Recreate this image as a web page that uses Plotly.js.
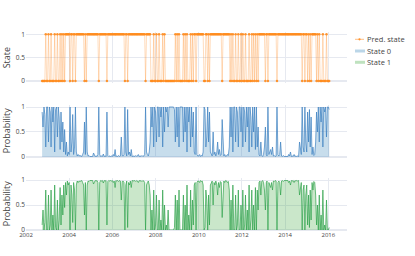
<!DOCTYPE html>
<html><head><meta charset="utf-8">
<script src="https://cdn.plot.ly/plotly-3.0.1.min.js"></script>
<style>html,body{margin:0;padding:0;background:#fff;} #chart{width:415px;height:256px;}</style>
</head><body><div id="chart"></div>
<script>
// Semi-monthly observations (1st and 16th of each month), first one 2002-10-01
const firstYear = 2002;
const firstSlot = 18; // slot = 2*(month-1) + (second half ? 1 : 0)

// Smoothed probability of state 0
const stateZeroProb = [
  // 2002 (Oct-Dec)
  0.9, 0.6, 1, 0.85, 0.2, 1,
  // 2003
  1, 0.3, 1, 0.9, 0.2, 1, 0.7, 1, 0.1, 0.95, 1, 0.4, 1, 0.8, 0.15, 0.9, 0.3, 0.7, 0.1, 0.55, 0.05, 0.3, 0.02, 0.1,
  // 2004
  0.05, 1, 0.1, 0.3, 0.85, 0.05, 0.2, 1, 0.1, 0.02, 0.05, 0.02, 0.03, 0.02, 0.01, 0.05, 0.1, 0.7, 0.05, 1, 0.1, 0.02, 0.03, 0.01,
  // 2005
  0.01, 0.02, 0.01, 0.08, 0.02, 0.01, 0.02, 0.01, 0.05, 1, 0.05, 0.01, 0.02, 0.01, 0.06, 0.01, 0.02, 0.01, 0.9, 0.03, 0.01, 0.02, 0.01, 0.02,
  // 2006
  0.01, 0.05, 0.02, 0.15, 0.01, 0.02, 0.01, 0.03, 0.01, 0.02, 0.4, 0.03, 0.02, 0.05, 1, 0.1, 0.02, 0.95, 0.05, 0.1, 0.02, 0.15, 0.01, 0.02,
  // 2007
  0.02, 0.01, 0.03, 0.01, 0.02, 0.05, 0.01, 0.02, 0.01, 0.03, 0.01, 0.02, 0.05, 1, 0.1, 0.05, 0.02, 0.1, 0.3, 1, 0.6, 1, 0.2, 1,
  // 2008
  0.9, 0.3, 1, 1, 0.4, 1, 0.8, 1, 0.2, 1, 0.5, 1, 0.9, 1, 0.6, 1, 1, 1, 1, 1, 1, 0.95, 0.3, 1,
  // 2009
  0.4, 1, 0.2, 1, 1, 1, 1, 0.3, 1, 0.5, 1, 0.1, 1, 0.7, 1, 0.2, 1, 0.4, 0.9, 0.1, 0.05, 1, 0.05, 0.02,
  // 2010
  0.02, 0.05, 0.01, 0.03, 0.02, 0.1, 1, 0.95, 0.2, 0.4, 1, 0.3, 0.9, 0.1, 0.05, 0.02, 0.5, 0.05, 0.1, 0.02, 0.08, 0.3, 0.05, 0.15,
  // 2011
  0.03, 0.05, 0.75, 0.1, 0.02, 0.05, 0.01, 0.02, 0.05, 0.03, 0.2, 1, 0.4, 1, 0.1, 1, 1, 0.3, 1, 0.9, 0.2, 1, 1, 0.5,
  // 2012
  1, 0.2, 1, 0.9, 0.3, 1, 0.6, 1, 0.1, 1, 0.8, 0.2, 1, 0.5, 1, 0.15, 1, 0.2, 0.6, 0.05, 0.02, 0.3, 0.03, 0.01,
  // 2013
  0.05, 0.2, 0.6, 0.05, 0.02, 1, 0.05, 0.1, 0.15, 0.05, 0.2, 0.02, 0.03, 0.01, 0.02, 1, 0.05, 0.02, 0.05, 0.3, 0.02, 0.01, 0.03, 0.01,
  // 2014
  0.01, 0.02, 0.01, 0.01, 0.05, 0.02, 0.1, 0.01, 0.02, 0.01, 0.05, 0.01, 0.02, 0.01, 0.02, 0.01, 0.3, 0.1, 0.05, 1, 0.2, 0.1, 1, 0.3,
  // 2015
  0.1, 0.9, 0.3, 0.95, 0.2, 0.8, 0.05, 0.2, 0.03, 0.05, 0.3, 0.9, 0.5, 1, 0.3, 1, 0.7, 1, 0.2, 1, 0.9, 1, 0.4, 1,
  // 2016 (Jan)
  1, 0.95
];

const seriesNames = ['Pred. state', 'State 0', 'State 1'];
const axisTitles = ['State', 'Probability', 'Probability'];
const xTickValues = ['2002-01-01','2004-01-01','2006-01-01','2008-01-01','2010-01-01','2012-01-01','2014-01-01','2016-01-01'];
const xTickText = ['2002','2004','2006','2008','2010','2012','2014','2016'];

// observation dates
const dates = stateZeroProb.map((_, i) => {
  const s = firstSlot + i;
  const y = firstYear + Math.floor(s / 24);
  const k = s % 24;
  const m = Math.floor(k / 2) + 1;
  return y + '-' + String(m).padStart(2, '0') + '-' + (k % 2 ? '16' : '01');
});
const stateOneProb = stateZeroProb.map(p => +(1 - p).toFixed(3));
const predState = stateZeroProb.map(p => (p > 0.5 ? 0 : 1));

const colors = {
  predLine: 'rgba(255,127,14,0.35)', predMarker: 'rgba(255,140,30,0.9)',
  s0Line: '#3b80c0', s0Fill: 'rgba(31,119,180,0.25)',
  s1Line: '#2ea24a', s1Fill: 'rgba(44,160,44,0.25)'
};

const grid = '#E6E9F0';
const tickFont = {size: 6.5, color: '#444'};
const titleFont = {size: 9, color: '#444'};
const xRange = ['2002-01-01', '2016-11-12'];

function xAxis(anchor, showLabels) {
  return {
    anchor: anchor, domain: [0, 1], type: 'date', range: xRange,
    tickvals: xTickValues, ticktext: xTickText, showticklabels: showLabels,
    tickfont: {size: 6, color: '#444'}, ticks: '',
    showgrid: true, gridcolor: grid, gridwidth: 1, zeroline: false, showline: false
  };
}
function yAxis(anchor, domain, range, title) {
  return {
    anchor: anchor, domain: domain, range: range,
    tickvals: [0, 0.5, 1], ticktext: ['0', '0.5', '1'], tickfont: tickFont, ticks: '',
    showgrid: true, gridcolor: grid, gridwidth: 1,
    zeroline: true, zerolinecolor: grid, zerolinewidth: 1.5, showline: false,
    title: {text: title, font: titleFont, standoff: 5}
  };
}

const traces = [
  {
    x: dates, y: predState, xaxis: 'x', yaxis: 'y', name: seriesNames[0],
    type: 'scatter', mode: 'lines+markers',
    line: {color: colors.predLine, width: 0.8},
    marker: {size: 2.5, color: colors.predMarker}
  },
  {
    x: dates, y: stateZeroProb, xaxis: 'x2', yaxis: 'y2', name: seriesNames[1],
    type: 'scatter', mode: 'lines', fill: 'tozeroy',
    line: {color: colors.s0Line, width: 0.7}, fillcolor: colors.s0Fill
  },
  {
    x: dates, y: stateOneProb, xaxis: 'x3', yaxis: 'y3', name: seriesNames[2],
    type: 'scatter', mode: 'lines', fill: 'tozeroy',
    line: {color: colors.s1Line, width: 0.7}, fillcolor: colors.s1Fill
  }
];

// Legend drawn as paper-positioned keys (plot area: x 26..347 px, y 32..230 px)
const px = v => (v - 26) / 321;
const py = v => (230 - v) / 198;
const legendRows = [39.3, 51, 62.3];
const legendAnnotations = seriesNames.map((n, i) => ({
  text: n, xref: 'paper', yref: 'paper', x: px(365), y: py(legendRows[i]),
  xanchor: 'left', yanchor: 'middle', showarrow: false,
  font: {size: 7.5, color: '#444'}
}));
const legendShapes = [
  {type: 'line', xref: 'paper', yref: 'paper', x0: px(355), x1: px(364), y0: py(legendRows[0]), y1: py(legendRows[0]),
   line: {color: 'rgba(255,127,14,0.5)', width: 1}},
  {type: 'circle', xref: 'paper', yref: 'paper', x0: px(358.4), x1: px(360.6), y0: py(legendRows[0] - 1.1), y1: py(legendRows[0] + 1.1),
   fillcolor: colors.predMarker, line: {width: 0}},
  {type: 'line', xref: 'paper', yref: 'paper', x0: px(355), x1: px(365), y0: py(legendRows[1]), y1: py(legendRows[1]),
   line: {color: 'rgba(31,119,180,0.3)', width: 3}},
  {type: 'line', xref: 'paper', yref: 'paper', x0: px(355), x1: px(365), y0: py(legendRows[2]), y1: py(legendRows[2]),
   line: {color: 'rgba(44,160,44,0.3)', width: 3}}
];

const layout = {
  width: 415, height: 256,
  margin: {l: 26, r: 68, t: 32, b: 26},
  paper_bgcolor: '#fff', plot_bgcolor: '#fff',
  font: {family: '"Open Sans", Arial, sans-serif', size: 7, color: '#444'},
  showlegend: false,
  xaxis: xAxis('y', false),
  xaxis2: xAxis('y2', false),
  xaxis3: xAxis('y3', true),
  yaxis: yAxis('x', [0.741, 1], [-0.05, 1.05], axisTitles[0]),
  yaxis2: yAxis('x2', [0.3687, 0.6338], [0, 1.05], axisTitles[1]),
  yaxis3: yAxis('x3', [0, 0.265], [0, 1.05], axisTitles[2]),
  annotations: legendAnnotations,
  shapes: legendShapes
};

Plotly.newPlot('chart', traces, layout, {displayModeBar: false, staticPlot: true});
</script>
</body></html>
